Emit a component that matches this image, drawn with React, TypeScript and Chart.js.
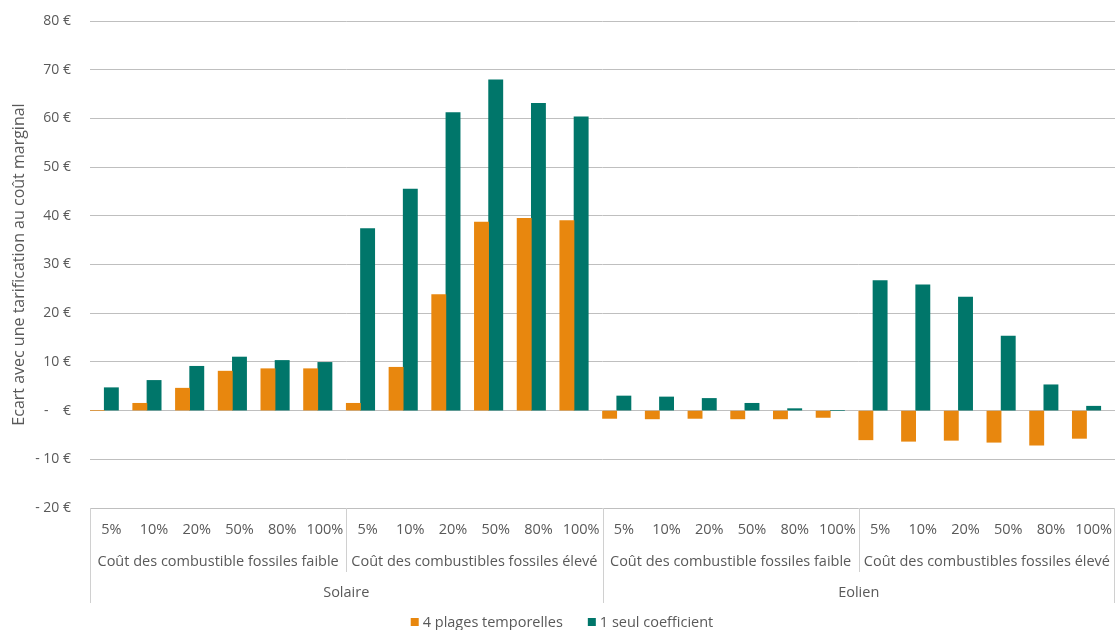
import React, { useEffect, useRef } from "react";
import { Chart, registerables } from "chart.js";

Chart.register(...registerables);

const percentLabels = ["5%", "10%", "20%", "50%", "80%", "100%"];
const scenarioLabels = [
  "Coût des combustible fossiles faible",
  "Coût des combustibles fossiles élevé",
  "Coût des combustible fossiles faible",
  "Coût des combustibles fossiles élevé",
];
const technologyLabels = ["Solaire", "Eolien"];

const seriesNames = ["4 plages temporelles", "1 seul coefficient"];
const seriesColors = ["#E8870E", "#00766A"];

const plagesValues = [
  0, 1.5, 4.6, 8.1, 8.6, 8.6,
  1.5, 8.9, 23.8, 38.7, 39.5, 39.0,
  -1.6, -1.7, -1.6, -1.7, -1.7, -1.4,
  -6.0, -6.3, -6.1, -6.5, -7.1, -5.7,
];
const coefficientValues = [
  4.7, 6.2, 9.1, 11.0, 10.3, 9.9,
  37.4, 45.5, 61.2, 67.9, 63.1, 60.3,
  3.0, 2.8, 2.5, 1.5, 0.4, 0,
  26.7, 25.8, 23.3, 15.3, 5.3, 0.9,
];
// empty third series present in the source workbook (reserves a slot in each group)
const emptySeries: (number | null)[] = [
  null, null, null, null, null, null, null, null, null, null, null, null,
  null, null, null, null, null, null, null, null, null, null, null, null,
];

const yMin = -20;
const yMax = 80;
const yStep = 10;

const FONT = "'Open Sans', 'Noto Sans', sans-serif";
const TEXT = "#595959";
const LINE = "#d0d0d0";

const categories: string[] = [];
scenarioLabels.forEach((s, si) => {
  percentLabels.forEach((p) => categories.push(technologyLabels[Math.floor(si / 2)] + " | " + s + " | " + p));
});

const multiLevelPlugin = {
  id: "multiLevel",
  afterDraw(chart: any) {
    const ctx = chart.ctx;
    const xs = chart.scales.x;
    const top = chart.chartArea.bottom;
    const n = categories.length;
    const w = (xs.right - xs.left) / n;
    const row1 = top + 22;
    const row2 = top + 54;
    const row3 = top + 85;
    const midEnd = top + 64;
    const fullEnd = top + 95;
    ctx.save();
    ctx.strokeStyle = LINE;
    ctx.lineWidth = 1;
    const vline = (x: number, y2: number) => {
      const xx = Math.round(x) + 0.5;
      ctx.beginPath();
      ctx.moveTo(xx, top);
      ctx.lineTo(xx, y2);
      ctx.stroke();
    };
    for (let g = 0; g <= scenarioLabels.length; g++) {
      const x = Math.min(xs.left + g * percentLabels.length * w, xs.right - 1);
      const isTech = g % 2 === 0;
      vline(x, isTech ? fullEnd : midEnd);
    }
    ctx.fillStyle = TEXT;
    ctx.textAlign = "center";
    ctx.textBaseline = "middle";
    ctx.font = "14.5px " + FONT;
    for (let i = 0; i < n; i++) {
      const x = xs.getPixelForValue(i);
      ctx.fillText(percentLabels[i % percentLabels.length], x, row1);
    }
    scenarioLabels.forEach((s, si) => {
      const x = xs.left + (si + 0.5) * percentLabels.length * w;
      ctx.fillText(s, x, row2);
    });
    technologyLabels.forEach((t, ti) => {
      const x = xs.left + (ti + 0.5) * 2 * percentLabels.length * w;
      ctx.fillText(t, x, row3);
    });
    // legend
    ctx.font = "14.5px " + FONT;
    const box = 8;
    const gapBox = 4;
    const gapItem = 25;
    const widths = seriesNames.map((s) => ctx.measureText(s).width);
    const total = widths.reduce((a, b) => a + b, 0) + seriesNames.length * (box + gapBox) + gapItem * (seriesNames.length - 1);
    let x = 562 - total / 2;
    const ly = 622;
    ctx.textAlign = "left";
    seriesNames.forEach((s, i) => {
      ctx.fillStyle = seriesColors[i];
      ctx.fillRect(x, ly - box / 2, box, box);
      x += box + gapBox;
      ctx.fillStyle = TEXT;
      ctx.fillText(s, x, ly + 0.5);
      x += widths[i] + gapItem;
    });
    ctx.restore();
  },
};

function formatEuro(v: number): string {
  if (v === 0) return "-    €";
  if (v < 0) return "- " + Math.abs(v) + " €";
  return v + " €";
}

export default function App() {
  const canvasRef = useRef<HTMLCanvasElement | null>(null);
  useEffect(() => {
    if (!canvasRef.current) return;
    const chart = new Chart(canvasRef.current, {
      type: "bar",
      data: {
        labels: categories,
        datasets: [
          { label: seriesNames[0], data: plagesValues, backgroundColor: seriesColors[0], borderWidth: 0 },
          { label: seriesNames[1], data: coefficientValues, backgroundColor: seriesColors[1], borderWidth: 0 },
          { label: "", data: emptySeries, backgroundColor: "rgba(0,0,0,0)", borderWidth: 0 },
        ],
      },
      options: {
        animation: false,
        responsive: true,
        maintainAspectRatio: false,
        layout: { padding: { top: 21, right: 0, bottom: 0, left: 0 } },
        datasets: { bar: { categoryPercentage: 1, barPercentage: 1 } },
        plugins: {
          legend: { display: false },
          tooltip: { enabled: false },
        },
        scales: {
          x: {
            offset: true,
            grid: { display: false },
            border: { display: false },
            ticks: { display: false },
            afterFit: (s: any) => {
              s.height = 122;
            },
          },
          y: {
            min: yMin,
            max: yMax,
            border: { display: false },
            grid: { color: "#bfbfbf", lineWidth: 1, drawTicks: false },
            ticks: {
              stepSize: yStep,
              padding: 19,
              color: TEXT,
              font: { family: FONT, size: 14 },
              callback: (v: any) => formatEuro(Number(v)),
            },
            title: {
              display: true,
              text: "Ecart avec une tarification au coût marginal",
              color: TEXT,
              font: { family: FONT, size: 16 },
              padding: { top: 10, bottom: 0 },
            },
            afterFit: (s: any) => {
              s.width = 90;
              s.paddingTop = 5;
              s.paddingBottom = 5;
            },
          },
        },
      },
      plugins: [multiLevelPlugin],
    });
    return () => chart.destroy();
  }, []);
  return (
    <div style={{ position: "fixed", left: 0, top: 0, width: 1115, height: 630, background: "#fff" }}>
      <canvas ref={canvasRef} />
    </div>
  );
}
